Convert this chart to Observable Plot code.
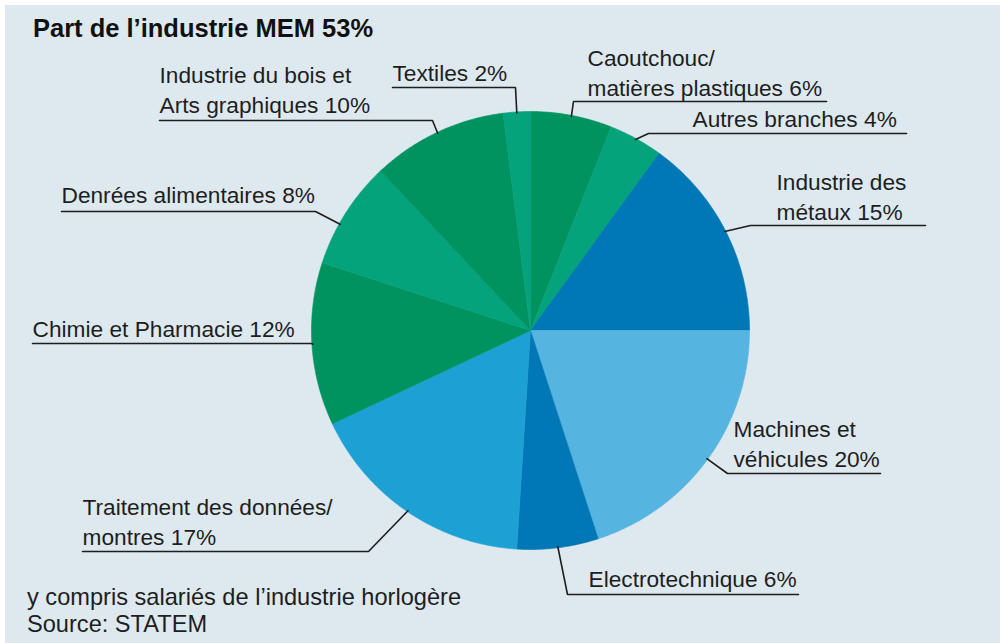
<!DOCTYPE html><html><head><meta charset="utf-8">
<script src="https://cdn.jsdelivr.net/npm/d3@7"></script>
<script src="https://cdn.jsdelivr.net/npm/@observablehq/plot@0.6"></script>
<style>
body{margin:0;background:#fff;font-family:"Liberation Sans",Arial,sans-serif;color:#1e1e1e}
#card{position:absolute;left:5px;top:5px;width:995px;height:638px;background:#dde9ee;overflow:hidden}
#title{height:45px;box-sizing:border-box;padding:8px 0 0 28px;font-weight:bold;font-size:25.5px;line-height:30px;color:#111}
#chart svg{display:block}
#caption{position:absolute;left:22px;top:579px;font-size:23.6px;line-height:27px}
</style>
</head><body>
<div id="card">
  <div id="title">Part de l’industrie MEM 53%</div>
  <div id="chart"></div>
  <div id="caption">y compris salariés de l’industrie horlogère<br>Source: STATEM</div>
</div>
<script>
// ---- data (clockwise from 12 o'clock) ----
const names = ["Caoutchouc/matières plastiques","Autres branches","Industrie des métaux","Machines et véhicules","Electrotechnique","Traitement des données/montres","Chimie et Pharmacie","Denrées alimentaires","Industrie du bois et Arts graphiques","Textiles"];
const values = [6, 4, 15, 20, 6, 17, 12, 8, 10, 2];
const labelText = ["Caoutchouc/\nmatières plastiques 6%","Autres branches 4%","Industrie des\nmétaux 15%","Machines et\nvéhicules 20%","Electrotechnique 6%","Traitement des données/\nmontres 17%","Chimie et Pharmacie 12%","Denrées alimentaires 8%","Industrie du bois et\nArts graphiques 10%","Textiles 2%"];
const colors = ["#00935f","#05a37c","#0077b6","#56b4e0","#0077b6","#1da1d4","#00935f","#05a37c","#00935f","#05a37c"];

// ---- layout (page pixel coordinates) ----
const OX = 5, OY = 50, W = 995, H = 548;
const CX = 530, CY = 330, R = 219;
// per label: text x, baseline of last line, underline y, underline far end x, elbow x, optional rim-angle offset (fraction of turn)
const layout = [
  {tx:587, ty:95,  uy:101, ux:826, ex:573},
  {tx:692, ty:126, uy:133, ux:906, ex:648},
  {tx:776, ty:219, uy:225, ux:925, ex:750},
  {tx:733, ty:466, uy:473, ux:880, ex:727},
  {tx:588, ty:586, uy:594, ux:798, ex:567},
  {tx:82,  ty:544, uy:551, ux:82,  ex:368},
  {tx:32,  ty:336, uy:343, ux:32,  ex:311},
  {tx:61,  ty:202, uy:211, ux:61,  ex:315, da:-0.009},
  {tx:159, ty:112, uy:120, ux:159, ex:432},
  {tx:392, ty:80,  uy:87,  ux:392, ex:515}
];

const data = names.map((name, i) => ({name, value: values[i], color: colors[i], label: labelText[i]}));
const arcs = d3.pie().sort(null).value(d => d.value)(data);
const pt = (a, r) => [CX - OX + r * Math.sin(a), CY - OY - r * Math.cos(a)];

// slice polygons derived from the pie angles
const slicePts = [];
arcs.forEach(a => {
  const d = a.data;
  const n = Math.max(2, Math.ceil((a.endAngle - a.startAngle) / 0.01));
  const c = pt(0, 0);
  slicePts.push({name: d.name, color: d.color, x: c[0], y: c[1]});
  for (let k = 0; k <= n; k++) {
    const ang = a.startAngle + (a.endAngle - a.startAngle) * k / n;
    const p = pt(ang, R);
    slicePts.push({name: d.name, color: d.color, x: p[0], y: p[1]});
  }
  slicePts.push({name: d.name, color: d.color, x: c[0], y: c[1]});
});

// leader lines: underline far end -> elbow -> slice rim
const leaderPts = [];
arcs.forEach((a, i) => {
  const L = layout[i];
  const mid = (a.startAngle + a.endAngle) / 2 + (L.da || 0) * 2 * Math.PI;
  const p = pt(mid, R - 1);
  leaderPts.push({name: a.data.name, x: L.ux - OX, y: L.uy - OY});
  leaderPts.push({name: a.data.name, x: L.ex - OX, y: L.uy - OY});
  leaderPts.push({name: a.data.name, x: p[0], y: p[1]});
});

const labels = data.map((d, i) => ({text: d.label, x: layout[i].tx - OX, y: layout[i].ty - OY}));

const chart = Plot.plot({
  width: W, height: H,
  margin: 0,
  x: {domain: [0, W], range: [0, W], axis: null},
  y: {domain: [0, H], range: [0, H], axis: null},
  color: {type: "identity"},
  style: {background: "transparent", fontFamily: "Liberation Sans, Arial, sans-serif", overflow: "visible"},
  marks: [
    Plot.line(slicePts, {x: "x", y: "y", z: "name", fill: "color", stroke: "color", strokeWidth: 0.6, curve: "linear"}),
    Plot.line(leaderPts, {x: "x", y: "y", z: "name", stroke: "#1e1e1e", strokeWidth: 1.6, curve: "linear", strokeLinejoin: "miter"}),
    Plot.text(labels, {x: "x", y: "y", text: "text", textAnchor: "start", lineAnchor: "bottom", lineHeight: 1.28, fontSize: 22.7, fill: "#1e1e1e"})
  ]
});
document.getElementById("chart").appendChild(chart);
</script></body></html>
